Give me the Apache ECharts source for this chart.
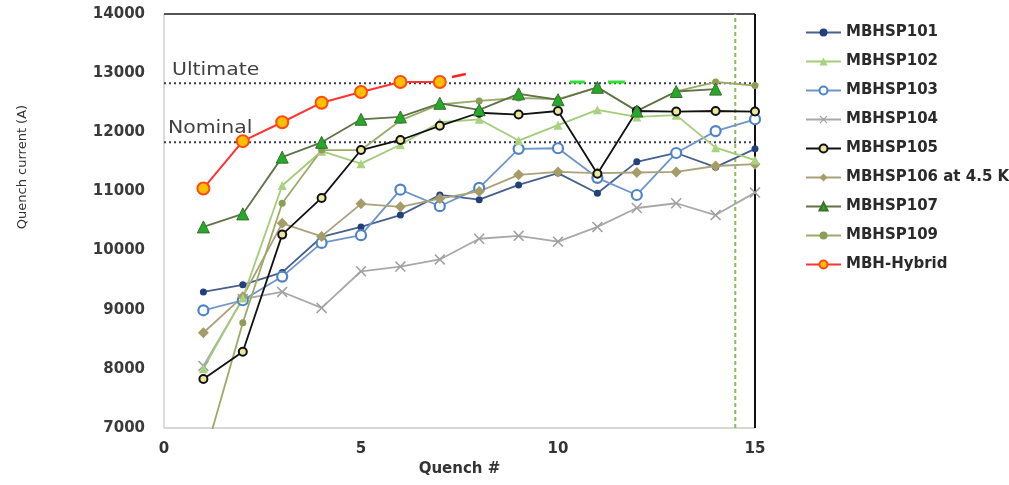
<!DOCTYPE html>
<html>
<head>
<meta charset="utf-8">
<script src="https://cdn.jsdelivr.net/npm/echarts@6/dist/echarts.min.js"></script>
<style>html,body{margin:0;padding:0;background:#fff}#c{width:1009px;height:485px}</style>
</head>
<body>
<div id="c"></div>
<script>
var quench = [1,2,3,4,5,6,7,8,9,10,11,12,13,14,15];
var mbhsp101 = [9300, 9420, 9630, 10230, 10400, 10600, 10940, 10860, 11110, 11310, 10970, 11500, 11650, 11410, 11720];
var mbhsp102 = [8000, 9200, 11100, 11680, 11470, 11790, 12170, 12220, 11860, 12120, 12380, 12260, 12290, 11740, 11530];
var mbhsp103 = [8990, 9160, 9560, 10130, 10260, 11030, 10750, 11060, 11720, 11730, 11230, 10940, 11650, 12020, 12220];
var mbhsp104 = [8050, 9180, 9300, 9030, 9650, 9730, 9850, 10200, 10250, 10150, 10400, 10720, 10800, 10600, 10980];
var mbhsp105 = [7830, 8290, 10270, 10890, 11700, 11870, 12110, 12330, 12300, 12360, 11300, 12360, 12350, 12360, 12350];
var mbhsp106 = [8610, 9220, 10460, 10240, 10790, 10740, 10880, 11000, 11280, 11330, 11310, 11320, 11330, 11430, 11460];
var mbhsp107 = [10400, 10620, 11580, 11830, 12220, 12260, 12490, 12380, 12650, 12550, 12760, 12360, 12690, 12730];
var mbhsp109 = [6450, 8780, 10800, 11700, 11700, 12200, 12470, 12530, 12580, 12560, 12760, 12360, 12690, 12850, 12790];
var hybrid = [11050, 11850, 12170, 12500, 12680, 12850, 12850];
var ultimateLevel = 12830;
var nominalLevel = 11830;
var markerQuench = 14.5;
var hybridStub = [[7.31, 12935], [7.66, 12985]];
var greenStubA = [[10.30, 12850], [10.68, 12850]];
var greenStubB = [[11.27, 12850], [11.70, 12850]];
var xTicks = {min: 0, max: 15, interval: 5};
var yTicks = {min: 7000, max: 14000, interval: 1000};

function pairs(vals) { return vals.map(function (v, i) { return [quench[i], v]; }); }

var FONT = 'DejaVu Sans';
var xCross = 'path://M1,0L5,4L9,0L10,1L6,5L10,9L9,10L5,6L1,10L0,9L4,5L0,1Z';

function ser(name, vals, o) {
  return {
    name: name, type: 'line', data: pairs(vals), z: o.z || 3,
    symbol: o.symbol, symbolSize: o.size,
    lineStyle: {color: o.line, width: o.width || 1.8},
    itemStyle: o.item,
    emphasis: {disabled: true}
  };
}
function rule(data, style, z) {
  return {type: 'line', data: data, symbol: 'none', z: z || 1, clip: false, silent: true,
          lineStyle: style, emphasis: {disabled: true}};
}

var chart = echarts.init(document.getElementById('c'));
var names = ['MBHSP101','MBHSP102','MBHSP103','MBHSP104','MBHSP105','MBHSP106 at 4.5 K','MBHSP107','MBHSP109','MBH-Hybrid'];

var option = {
  animation: false,
  backgroundColor: '#ffffff',
  grid: {left: 164, right: 254, top: 14, bottom: 57},
  legend: {
    data: names, orient: 'vertical', left: 800, top: 20,
    itemWidth: 35, itemHeight: 10, itemGap: 14,
    textStyle: {fontFamily: FONT, fontWeight: 'bold', fontSize: 15, color: '#2a2a2a'}
  },
  xAxis: {
    type: 'value', min: xTicks.min, max: xTicks.max, interval: xTicks.interval,
    name: 'Quench #', nameLocation: 'middle', nameGap: 34,
    nameTextStyle: {fontFamily: FONT, fontWeight: 'bold', fontSize: 15, color: '#333'},
    axisLine: {show: false},
    axisTick: {show: false}, splitLine: {show: false},
    axisLabel: {fontFamily: FONT, fontWeight: 'bold', fontSize: 15, color: '#333', margin: 14}
  },
  yAxis: {
    type: 'value', min: yTicks.min, max: yTicks.max, interval: yTicks.interval,
    axisLine: {show: false},
    axisTick: {show: false}, splitLine: {show: false},
    axisLabel: {fontFamily: FONT, fontWeight: 'bold', fontSize: 15, color: '#3a3a3a', margin: 19,
                formatter: function (v) { return String(v); }}
  },
  graphic: [
    {type: 'text', x: 23, y: 167, rotation: Math.PI / 2,
     style: {text: 'Quench current (A)', fontFamily: FONT, fontSize: 13, fill: '#333', align: 'center', verticalAlign: 'middle'}},
    {type: 'text', x: 172, y: 71, scaleX: 1.2,
     style: {text: 'Ultimate', fontFamily: FONT, fontSize: 17, fill: '#404040', align: 'left', verticalAlign: 'middle'}},
    {type: 'text', x: 168, y: 129, scaleX: 1.2,
     style: {text: 'Nominal', fontFamily: FONT, fontSize: 17, fill: '#404040', align: 'left', verticalAlign: 'middle'}}
  ],
  series: [
    rule([[xTicks.min, yTicks.min], [xTicks.min, yTicks.max]], {color: '#cfcfcf', width: 1.5}),
    rule([[xTicks.min, yTicks.min], [xTicks.max, yTicks.min]], {color: '#d6d6d6', width: 2}),
    rule([[xTicks.min, yTicks.max], [xTicks.max, yTicks.max]], {color: '#555', width: 2}),
    rule([[xTicks.max, yTicks.min], [xTicks.max, yTicks.max]], {color: '#111', width: 2}),
    rule([[xTicks.min, ultimateLevel], [xTicks.max, ultimateLevel]], {color: '#3a3a55', width: 2, type: [2, 3]}),
    rule([[xTicks.min, nominalLevel], [xTicks.max, nominalLevel]], {color: '#3a3a55', width: 2, type: [2, 3]}),
    rule([[markerQuench, yTicks.min], [markerQuench, yTicks.max]], {color: '#8dbb5a', width: 2, type: [4, 3]}),
    ser('MBHSP104', mbhsp104, {symbol: xCross, size: 11, line: '#a8a8a8', item: {color: '#a0a0a0'}}),
    ser('MBHSP101', mbhsp101, {symbol: 'circle', size: 7, line: '#46608e', item: {color: '#23407a'}}),
    ser('MBHSP103', mbhsp103, {symbol: 'circle', size: 10, line: '#6f95c8', item: {color: '#ffffff', borderColor: '#4f84c4', borderWidth: 2.2}}),
    ser('MBHSP106 at 4.5 K', mbhsp106, {symbol: 'diamond', size: 11, line: '#aaa27a', item: {color: '#a59c68'}}),
    ser('MBHSP102', mbhsp102, {symbol: 'triangle', size: 9, line: '#a4cc78', item: {color: '#a9d27e'}}),
    ser('MBHSP109', mbhsp109, {symbol: 'circle', size: 7, line: '#9aab68', item: {color: '#8c9d58'}}),
    ser('MBHSP105', mbhsp105, {symbol: 'circle', size: 8, line: '#111111', item: {color: '#ece8a0', borderColor: '#111', borderWidth: 2}}),
    ser('MBHSP107', mbhsp107, {symbol: 'triangle', size: 12, line: '#5f7248', item: {color: '#22aa2a', borderColor: '#3f6e2c', borderWidth: 1}}),
    ser('MBH-Hybrid', hybrid, {symbol: 'circle', size: 12, line: '#ff3333', width: 2, item: {color: '#ffc000', borderColor: '#ff4a14', borderWidth: 2}, z: 5}),
    rule(hybridStub, {color: '#ff2020', width: 2.5}, 5),
    rule(greenStubA, {color: '#33dd33', width: 3}, 4),
    rule(greenStubB, {color: '#33dd33', width: 3}, 4)
  ]
};
chart.setOption(option);
</script>
</body>
</html>
